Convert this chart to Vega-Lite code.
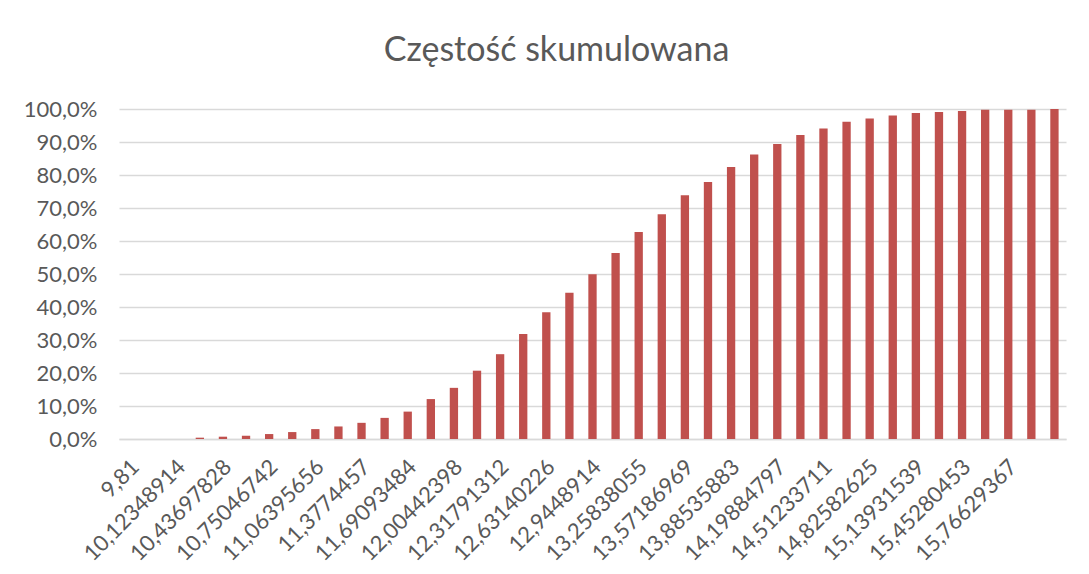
{
  "$schema": "https://vega.github.io/schema/vega-lite/v6.json",
  "width": 947,
  "height": 330,
  "autosize": {"type": "none"},
  "padding": {"left": 119, "top": 109, "right": 24, "bottom": 135},
  "background": "white",
  "title": {
    "text": "Częstość skumulowana",
    "font": "Lato",
    "fontSize": 34,
    "fontWeight": "normal",
    "color": "#595959",
    "anchor": "middle",
    "dx": -36,
    "baseline": "alphabetic",
    "offset": 3
  },
  "data": {
    "values": [
      {"bin": "9,81", "cum": 0},
      {"bin": "9,96674457", "cum": 0},
      {"bin": "10,12348914", "cum": 0},
      {"bin": "10,28023371", "cum": 0.004},
      {"bin": "10,43697828", "cum": 0.007},
      {"bin": "10,59372285", "cum": 0.010},
      {"bin": "10,75046742", "cum": 0.015},
      {"bin": "10,90721199", "cum": 0.021},
      {"bin": "11,06395656", "cum": 0.030},
      {"bin": "11,22070113", "cum": 0.038},
      {"bin": "11,3774457", "cum": 0.049},
      {"bin": "11,53419027", "cum": 0.064},
      {"bin": "11,69093484", "cum": 0.083},
      {"bin": "11,84767941", "cum": 0.121},
      {"bin": "12,00442398", "cum": 0.155},
      {"bin": "12,16116855", "cum": 0.207},
      {"bin": "12,31791312", "cum": 0.257},
      {"bin": "12,47465769", "cum": 0.318},
      {"bin": "12,63140226", "cum": 0.384},
      {"bin": "12,78814683", "cum": 0.443},
      {"bin": "12,9448914", "cum": 0.499},
      {"bin": "13,10163597", "cum": 0.564},
      {"bin": "13,25838055", "cum": 0.627},
      {"bin": "13,41512512", "cum": 0.681},
      {"bin": "13,57186969", "cum": 0.739},
      {"bin": "13,72861426", "cum": 0.779},
      {"bin": "13,88535883", "cum": 0.824},
      {"bin": "14,0421034", "cum": 0.862},
      {"bin": "14,19884797", "cum": 0.894},
      {"bin": "14,35559254", "cum": 0.921},
      {"bin": "14,51233711", "cum": 0.941},
      {"bin": "14,66908168", "cum": 0.961},
      {"bin": "14,82582625", "cum": 0.971},
      {"bin": "14,98257082", "cum": 0.980},
      {"bin": "15,13931539", "cum": 0.988},
      {"bin": "15,29605996", "cum": 0.991},
      {"bin": "15,45280453", "cum": 0.994},
      {"bin": "15,6095491", "cum": 0.998},
      {"bin": "15,76629367", "cum": 0.998},
      {"bin": "15,92303824", "cum": 0.998},
      {"bin": "Więcej", "cum": 1.0}
    ]
  },
  "mark": {"type": "bar", "color": "#C0504D"},
  "encoding": {
    "x": {
      "field": "bin",
      "type": "nominal",
      "sort": null,
      "title": null,
      "scale": {"paddingInner": 0.64, "paddingOuter": 0.32},
      "axis": {
        "values": ["9,81", "10,12348914", "10,43697828", "10,75046742", "11,06395656", "11,3774457", "11,69093484", "12,00442398", "12,31791312", "12,63140226", "12,9448914", "13,25838055", "13,57186969", "13,88535883", "14,19884797", "14,51233711", "14,82582625", "15,13931539", "15,45280453", "15,76629367"],
        "labelAngle": -45,
        "labelAlign": "right",
        "labelBaseline": "middle",
        "labelFont": "Lato",
        "labelFontSize": 22,
        "labelColor": "#595959",
        "labelPadding": 24,
        "labelOffset": 5,
        "ticks": false,
        "domainColor": "#d9d9d9",
        "domainWidth": 1.5,
        "grid": false,
        "labelOverlap": false
      }
    },
    "y": {
      "field": "cum",
      "type": "quantitative",
      "title": null,
      "scale": {"domain": [0, 1], "nice": false},
      "axis": {
        "values": [0, 0.1, 0.2, 0.3, 0.4, 0.5, 0.6, 0.7, 0.8, 0.9, 1.0],
        "labelExpr": "replace(format(datum.value, '.1%'), '.', ',')",
        "labelFont": "Lato",
        "labelFontSize": 22,
        "labelColor": "#595959",
        "labelPadding": 22,
        "ticks": false,
        "domain": false,
        "gridColor": "#d9d9d9",
        "gridWidth": 1.5
      }
    }
  },
  "config": {
    "view": {"stroke": null}
  }
}
